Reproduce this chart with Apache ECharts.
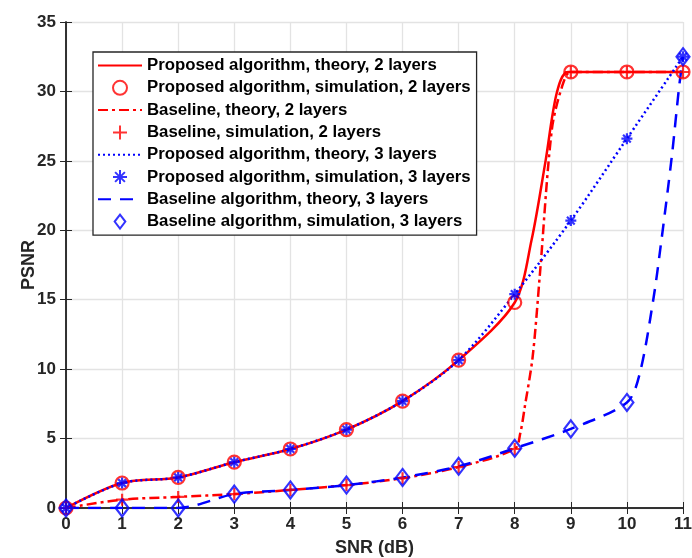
<!DOCTYPE html>
<html>
<head>
<meta charset="utf-8">
<script src="https://cdn.jsdelivr.net/npm/echarts@6/dist/echarts.min.js"></script>
<style>
  html, body { margin: 0; padding: 0; background: #fff; }
  #chart { width: 692px; height: 558px; }
</style>
</head>
<body>
<div id="chart"></div>
<script>
// simulated points at SNR = 0..11 dB
var snr = [0, 1, 2, 3, 4, 5, 6, 7, 8, 9, 10, 11];
var propSim2 = [0, 1.8, 2.2, 3.3, 4.25, 5.65, 7.7, 10.65, 14.8, 31.4, 31.4, 31.4];
var baseSim2 = [0, 0.6, 0.8, 1.0, 1.3, 1.65, 2.15, 2.95, 4.25, 31.4, 31.4, 31.4];
var propSim3 = [0, 1.8, 2.2, 3.3, 4.25, 5.65, 7.7, 10.65, 15.4, 20.7, 26.6, 32.5];
var baseSim3 = [0, 0, 0, 1.0, 1.3, 1.65, 2.2, 3.0, 4.3, 5.7, 7.6, 32.5];

// theory curves (including the steep parts)
var propTheory2X = [0, 1, 2, 3, 4, 5, 6, 7, 8, 8.3, 8.55, 8.75, 8.95, 10, 11];
var propTheory2Y = [0, 1.8, 2.2, 3.3, 4.25, 5.65, 7.7, 10.65, 14.8, 19.3, 25, 29.9, 31.4, 31.4, 31.4];
var baseTheory2X = [0, 1, 2, 3, 4, 5, 6, 7, 8, 8.1, 8.18, 8.32, 8.45, 8.66, 8.84, 9, 10, 11];
var baseTheory2Y = [0, 0.6, 0.8, 1.0, 1.3, 1.65, 2.15, 2.95, 4.25, 5.4, 7.3, 10.9, 16.9, 27.2, 30.3, 31.4, 31.4, 31.4];
var propTheory3X = [0, 1, 2, 3, 4, 5, 6, 7, 8, 9, 10, 11];
var propTheory3Y = [0, 1.8, 2.2, 3.3, 4.25, 5.65, 7.7, 10.65, 15.4, 20.7, 26.6, 32.5];
var baseTheory3X = [0, 1, 2, 3, 4, 5, 6, 7, 8, 9, 10, 10.23, 10.47, 10.6, 10.8, 10.93, 11];
var baseTheory3Y = [0, 0, 0, 1.0, 1.3, 1.65, 2.2, 3.0, 4.3, 5.7, 7.6, 9.7, 15, 18.8, 25.3, 30.3, 32.5];

var names = [
  'Proposed algorithm, theory, 2 layers',
  'Proposed algorithm, simulation, 2 layers',
  'Baseline, theory, 2 layers',
  'Baseline, simulation, 2 layers',
  'Proposed algorithm, theory, 3 layers',
  'Proposed algorithm, simulation, 3 layers',
  'Baseline algorithm, theory, 3 layers',
  'Baseline algorithm, simulation, 3 layers'
];

function pairs(xs, ys) {
  return xs.map(function (x, i) { return [x, ys[i]]; });
}

var RED = '#ff0000', BLUE = '#0000ff', AX = '#262626';
var FONT = 'Liberation Sans';
var plusPath = 'path://M0,-5L0,5M-5,0L5,0';
var starPath = 'path://M0,-5L0,5M-5,0L5,0M-3.5,-3.5L3.5,3.5M-3.5,3.5L3.5,-3.5';
var diamondPath = 'path://M0,-8.5L6.5,0L0,8.5L-6.5,0Z';

function theory(name, xs, ys, color, dash) {
  return {
    name: name, type: 'line', data: pairs(xs, ys),
    xAxisIndex: 0, yAxisIndex: 0,
    symbol: 'none', smooth: 0.3,
    lineStyle: { color: color, width: 2.5, type: dash },
    itemStyle: { color: color },
    z: 3
  };
}

function sim(name, ys, color, symbol, size) {
  return {
    name: name, type: 'scatter', data: pairs(snr, ys),
    xAxisIndex: 0, yAxisIndex: 0,
    symbol: symbol, symbolSize: size,
    itemStyle: { color: 'rgba(0,0,0,0)', borderColor: color, borderWidth: 2.2 },
    z: 4
  };
}

// legend entries: theory rows show only the line, simulation rows only the marker
var legendData = names.map(function (n, i) {
  if (i % 2 === 0) return { name: n, itemStyle: { opacity: 0 } };
  if (i === 7) return { name: n, icon: diamondPath };
  return { name: n };
});

var tickLabel = { color: AX, fontFamily: FONT, fontWeight: 'bold', fontSize: 17 };
var nameStyle = { color: AX, fontFamily: FONT, fontWeight: 'bold', fontSize: 18 };
var axLine = { show: true, lineStyle: { color: AX, width: 1.5 } };
var inTick = { show: true, inside: true, length: 6, lineStyle: { color: AX } };
var grid = { show: true, lineStyle: { color: '#e3e3e3', width: 1.3 } };

var option = {
  animation: false,
  backgroundColor: '#fff',
  grid: { left: 66, right: 9, top: 22, bottom: 50, outerBoundsMode: 'none' },
  legend: {
    orient: 'vertical', left: 93, top: 52,
    data: legendData,
    itemWidth: 44, itemHeight: 14, itemGap: 5.3,
    padding: [5, 6, 5, 4],
    backgroundColor: '#fff', borderColor: AX, borderWidth: 1.3,
    textStyle: { color: '#000', fontFamily: FONT, fontWeight: 'bold', fontSize: 16.8, lineHeight: 17 },
    selectedMode: false
  },
  xAxis: [{
    type: 'value', min: 0, max: 11, interval: 1,
    name: 'SNR (dB)', nameLocation: 'middle', nameGap: 31, nameMoveOverlap: false,
    nameTextStyle: nameStyle,
    axisLine: axLine, axisTick: inTick,
    axisLabel: Object.assign({ margin: 8 }, tickLabel),
    splitLine: grid
  }, {
    type: 'value', min: 0, max: 11, interval: 1, position: 'top',
    axisLine: axLine, axisTick: inTick,
    axisLabel: { show: false }, splitLine: { show: false }
  }],
  yAxis: [{
    type: 'value', min: 0, max: 35, interval: 5,
    name: 'PSNR', nameLocation: 'middle', nameGap: 28, nameMoveOverlap: false,
    nameTextStyle: nameStyle,
    axisLine: axLine, axisTick: inTick,
    axisLabel: Object.assign({ margin: 10 }, tickLabel),
    splitLine: grid
  }, {
    type: 'value', min: 0, max: 35, interval: 5, position: 'right',
    axisLine: axLine, axisTick: inTick,
    axisLabel: { show: false }, splitLine: { show: false }
  }],
  series: [
    theory(names[0], propTheory2X, propTheory2Y, RED, 'solid'),
    sim(names[1], propSim2, RED, 'circle', 13),
    theory(names[2], baseTheory2X, baseTheory2Y, RED, [10, 4, 3, 4]),
    sim(names[3], baseSim2, RED, plusPath, 12),
    theory(names[4], propTheory3X, propTheory3Y, BLUE, [2, 3]),
    sim(names[5], propSim3, BLUE, starPath, 11),
    theory(names[6], baseTheory3X, baseTheory3Y, BLUE, [13, 9]),
    sim(names[7], baseSim3, BLUE, diamondPath, [13, 17])
  ]
};

var chart = echarts.init(document.getElementById('chart'));
chart.setOption(option);
</script>
</body>
</html>
